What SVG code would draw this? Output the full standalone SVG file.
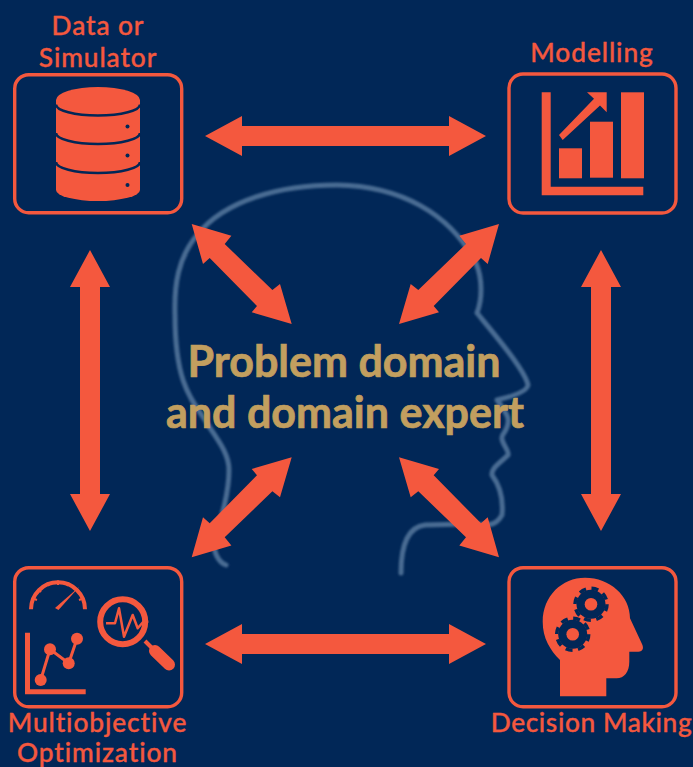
<svg xmlns="http://www.w3.org/2000/svg" width="693" height="767" viewBox="0 0 693 767">
<style>
.lbl{font-family:Lato,"Liberation Sans",sans-serif;font-size:26.300px;font-weight:500;fill:#f4583e;stroke:#f4583e;stroke-width:.35px;text-anchor:middle;letter-spacing:.9px}
.mid{font-family:Lato,"Liberation Sans",sans-serif;font-size:43px;font-weight:700;fill:#c29f5f;stroke:#c29f5f;stroke-width:.7px;text-anchor:middle}
.box{fill:none;stroke:#f4583e;stroke-width:3.400}
.o{fill:#f4583e}
.d{fill:#012757}
.cut{fill:none;stroke:#012757;stroke-width:2.600}
.ln{fill:none;stroke:#f4583e}
</style>
<defs>
<filter id="soft" x="-5%" y="-5%" width="110%" height="110%"><feGaussianBlur stdDeviation="0.8"/></filter>
<polygon id="h" class="o" points="-140.500,0 -103.500,-20 -103.500,-10 103.500,-10 103.500,-20 140.500,0 103.500,20 103.500,10 -103.500,10 -103.500,20"/>
<polygon id="v" class="o" points="0,-140.500 20,-103.500 10,-103.500 10,103.500 20,103.500 0,140.500 -20,103.500 -10,103.500 -10,-103.500 -20,-103.500"/>
<polygon id="dg" class="o" points="-50,-50 -10.300,-38.300 -17,-30 30.700,16 38.300,10 50,50 10,38.300 15.300,32 -32,-16 -38.700,-10"/>
<g id="gear"><circle r="14.500" class="d"/><circle r="16" fill="none" stroke="#012757" stroke-width="3.500" stroke-dasharray="7 5.570"/><circle r="6.300" class="o"/></g>
</defs>
<rect width="693" height="767" fill="#012757"/>
<path id="head-outline" filter="url(#soft)" fill="none" stroke="#4a6c93" stroke-width="5" stroke-linecap="round" stroke-linejoin="round" d="M226,565 C218,562 214,552 213,540 C222,520 229,490 229,470 C229,452 215,437 207,423 C192,400 175,385 175,315 C174,285 178,258 197,235 C225,200 280,185 337,185 C400,186 450,213 476,263 C483,280 482,300 477,313 C495,335 525,370 528,385 C527,392 510,397 497,400 C508,415 512,420 504,433 C497,440 510,450 508,455 C500,463 491,468 492,475 C503,490 503,505 502,515 C495,527 490,525 465,524 L425,525 C408,527 401,545 401,573"/>
<g id="connectors">
<use href="#h" x="345.500" y="136"/>
<use href="#h" x="345.500" y="644"/>
<use href="#v" x="90" y="390.500"/>
<use href="#v" x="601" y="390.500"/>
<use href="#dg" x="241.700" y="274"/>
<use href="#dg" transform="translate(449,274) scale(-1,1)"/>
<use href="#dg" transform="translate(241.700,507.300) scale(1,-1)"/>
<use href="#dg" transform="translate(449,507.300) scale(-1,-1)"/>
</g>
<g id="center-label">
<text class="mid" x="344" y="377">Problem domain</text>
<text class="mid" x="345" y="428">and domain expert</text>
</g>
<g id="data-simulator">
<rect class="box" x="14.700" y="74.700" width="167" height="138" rx="14"/>
<text class="lbl" x="98" y="35">Data or</text>
<text class="lbl" x="98" y="66.500">Simulator</text>
<path class="o" d="M56,100 A42,13 0 0 1 140,100 V190 A42,11 0 0 1 56,190 Z"/>
<path class="cut" d="M56,104.500 A42,11 0 0 0 140,104.500 M56,133 A42,11 0 0 0 140,133 M56,162 A42,11 0 0 0 140,162"/>
<circle class="d" cx="127.500" cy="126.500" r="2"/><circle class="d" cx="127.500" cy="155.500" r="2"/><circle class="d" cx="127.500" cy="185" r="2"/>
</g>
<g id="modelling">
<rect class="box" x="509" y="74" width="167" height="139" rx="14"/>
<text class="lbl" x="592" y="62">Modelling</text>
<path class="o" d="M541.700,92.300 H550.700 V186.700 H643.300 V195.300 H541.700 Z"/>
<rect class="o" x="559" y="148.300" width="23" height="30"/>
<rect class="o" x="590" y="121.700" width="23" height="56"/>
<rect class="o" x="621" y="92.300" width="23" height="86"/>
<polygon class="o" points="587,92.300 606.700,92.300 606.700,112.300 600,105.500 562.700,140 559,135 594,98.800"/>
</g>
<g id="multiobjective">
<rect class="box" x="14.700" y="567.700" width="167" height="139" rx="14"/>
<text class="lbl" x="97.500" y="731.500">Multiobjective</text>
<text class="lbl" x="97.500" y="762">Optimization</text>
<path class="ln" stroke-width="4" d="M31,609.300 A27,27 0 0 1 85,609.300"/>
<path class="ln" stroke-width="2" d="M38,589 l3,3 M47.500,582.500 l1.500,3.500 M58,580.500 v4.500 M68.500,582.500 l-1.500,3.500 M33,598.500 l4,1.500 M83,598.500 l-4,1.500"/>
<polygon class="o" points="79.300,586.700 58.500,610 55,608"/>
<path class="o" d="M25,632.700 H30 V689.300 H85.700 V694.300 H25 Z"/>
<path class="ln" stroke-width="3" d="M40.700,680 L50,649.300 L68.700,663.300 L77,638.700"/>
<circle class="o" cx="40.700" cy="680" r="6"/><circle class="o" cx="50" cy="649.300" r="6"/><circle class="o" cx="68.700" cy="663.300" r="6"/><circle class="o" cx="77" cy="638.700" r="6"/>
<circle class="ln" cx="122.700" cy="621.700" r="22.500" stroke-width="6"/>
<path class="ln" stroke-width="4" d="M145,641 L153,649"/>
<path class="ln" stroke-width="12" stroke-linecap="round" d="M155,651 L169,664.500"/>
<path class="ln" stroke-width="2.500" stroke-linejoin="round" d="M106,623.300 H115 L119,608.300 L124,636.700 L132.700,615 L137.700,628.300 L143.300,621.700 H148.300"/>
</g>
<g id="decision-making">
<rect class="box" x="509" y="567.700" width="167" height="139" rx="14"/>
<text class="lbl" x="591.500" y="731.500" style="letter-spacing:.6px">Decision Making</text>
<path class="o" d="M560,696.300 V660 C550,650 542.700,638 542.700,621.700 C542.700,596 562,577.700 585,577.700 C610,577.700 630,596 630,618.300 L642,644 C644,648 643,651.700 638.300,651.700 H629.300 V661.700 C629.300,672 624,678.300 616.700,678.300 H606.300 V696.300 Z"/>
<use href="#gear" x="591" y="604.300"/>
<use href="#gear" x="572.700" y="634.300"/>
</g>
</svg>
